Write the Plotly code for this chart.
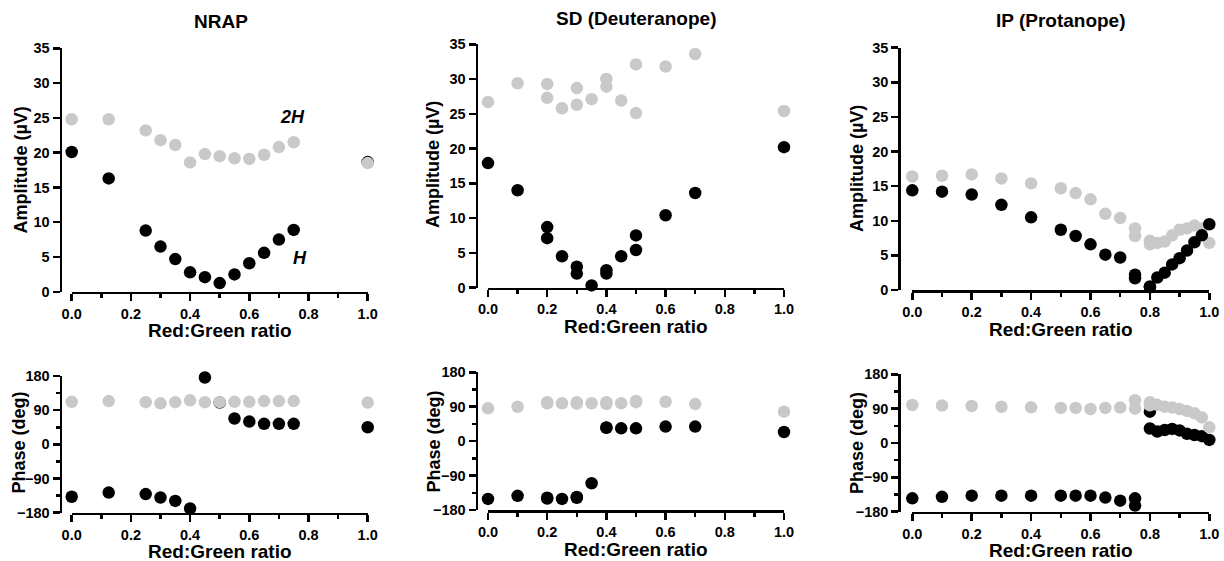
import plotly.graph_objects as go

# ---------------- data ----------------
# NRAP
nrap_amp_x_2h = [0.0, 0.125, 0.25, 0.3, 0.35, 0.4, 0.45, 0.5, 0.55, 0.6, 0.65, 0.7, 0.75, 1.0]
nrap_amp_2h = [24.8, 24.8, 23.2, 21.8, 21.1, 18.6, 19.8, 19.5, 19.2, 19.1, 19.7, 20.8, 21.5, 18.5]
nrap_amp_x_h = [0.0, 0.125, 0.25, 0.3, 0.35, 0.4, 0.45, 0.5, 0.55, 0.6, 0.65, 0.7, 0.75, 1.0]
nrap_amp_h = [20.1, 16.3, 8.8, 6.5, 4.7, 2.8, 2.1, 1.25, 2.5, 4.1, 5.6, 7.5, 8.9, 18.65]
nrap_ph_x_2h = [0.0, 0.125, 0.25, 0.3, 0.35, 0.4, 0.45, 0.5, 0.55, 0.6, 0.65, 0.7, 0.75, 1.0]
nrap_ph_2h = [112, 114, 111, 108, 111, 116, 111, 111, 112, 112, 114, 114, 114, 110]
nrap_ph_x_h = [0.0, 0.125, 0.25, 0.3, 0.35, 0.4, 0.45, 0.5, 0.55, 0.6, 0.65, 0.7, 0.75, 1.0]
nrap_ph_h = [-138, -127, -131, -140, -149, -169, 176, 110, 68, 60, 54, 54, 54, 45]

# SD (Deuteranope)
sd_amp_x_2h = [0.0, 0.1, 0.2, 0.2, 0.25, 0.3, 0.3, 0.35, 0.4, 0.4, 0.45, 0.5, 0.5, 0.6, 0.7, 1.0]
sd_amp_2h = [26.7, 29.4, 29.3, 27.3, 25.8, 28.7, 26.3, 27.1, 30.0, 28.9, 26.9, 32.1, 25.1, 31.8, 33.6, 25.4]
sd_amp_x_h = [0.0, 0.1, 0.2, 0.2, 0.25, 0.3, 0.3, 0.35, 0.4, 0.4, 0.45, 0.5, 0.5, 0.6, 0.7, 1.0]
sd_amp_h = [17.9, 14.0, 8.7, 7.1, 4.5, 3.0, 2.0, 0.3, 2.5, 2.0, 4.5, 7.5, 5.4, 10.4, 13.6, 20.2]
sd_ph_x_2h = [0.0, 0.1, 0.2, 0.2, 0.25, 0.3, 0.3, 0.35, 0.4, 0.4, 0.45, 0.5, 0.5, 0.6, 0.7, 1.0]
sd_ph_2h = [86, 90, 102, 99, 99, 102, 98, 99, 102, 97, 99, 105, 102, 103, 97, 77]
sd_ph_x_h = [0.0, 0.1, 0.2, 0.2, 0.25, 0.3, 0.3, 0.35, 0.4, 0.4, 0.45, 0.5, 0.6, 0.7, 1.0]
sd_ph_h = [-151, -143, -150, -148, -151, -148, -146, -110, 35, 36, 33.5, 33.5, 38, 38, 24]

# IP (Protanope)
ip_amp_x_2h = [0.0, 0.1, 0.2, 0.3, 0.4, 0.5, 0.55, 0.6, 0.65, 0.7, 0.75, 0.75,
               0.8, 0.8, 0.825, 0.85, 0.875, 0.9, 0.925, 0.95, 0.975, 1.0]
ip_amp_2h = [16.4, 16.5, 16.7, 16.1, 15.4, 14.7, 14.0, 13.1, 11.0, 10.4, 8.9, 7.8,
             7.1, 6.6, 6.8, 7.0, 7.9, 8.7, 8.9, 9.3, 8.9, 6.8]
ip_amp_x_h = [0.0, 0.1, 0.2, 0.3, 0.4, 0.5, 0.55, 0.6, 0.65, 0.7, 0.75, 0.75,
              0.8, 0.8, 0.825, 0.85, 0.875, 0.9, 0.925, 0.95, 0.975, 1.0]
ip_amp_h = [14.4, 14.2, 13.8, 12.3, 10.5, 8.7, 7.8, 6.6, 5.1, 4.7, 2.2, 1.7,
            0.4, 0.5, 1.8, 2.5, 3.7, 4.6, 5.7, 6.9, 7.9, 9.5]
ip_ph_x_2h = [0.0, 0.1, 0.2, 0.3, 0.4, 0.5, 0.55, 0.6, 0.65, 0.7, 0.75, 0.75,
              0.8, 0.8, 0.825, 0.85, 0.875, 0.9, 0.925, 0.95, 0.975, 1.0]
ip_ph_2h = [99.6, 98, 97, 95, 93.5, 92, 92, 89, 92, 93, 112, 90,
            107, 99, 100, 95, 93, 89, 84, 78, 67, 41]
ip_ph_x_h = [0.0, 0.1, 0.2, 0.3, 0.4, 0.5, 0.55, 0.6, 0.65, 0.7, 0.75, 0.75,
             0.8, 0.8, 0.825, 0.85, 0.875, 0.9, 0.925, 0.95, 0.975, 1.0]
ip_ph_h = [-145, -141, -138, -138, -138, -138, -138, -138, -143, -151, -145, -164,
           82, 38, 30, 34, 37, 33, 24, 21, 18, 8]

panel_titles = ["NRAP", "SD (Deuteranope)", "IP (Protanope)"]
x_title = "Red:Green ratio"
amp_title = "Amplitude (µV)"
ph_title = "Phase (deg)"

GRAY = "#c9c9c9"
BLACK = "#000000"
FONT = "Liberation Sans, Arial, sans-serif"

W, H = 1224, 561


def px(x):
    return x / W


def py(y):
    return 1 - y / H


# panel geometry in window pixels: (x0, x1, yaxis_x, ytop, ybottom)
geo = {
    1: (71.7, 367.7, 60.5, 48.3, 291.8),
    2: (488.0, 784.0, 476.5, 44.3, 287.5),
    3: (912.3, 1209.3, 899.3, 47.7, 290.0),
    4: (71.7, 367.7, 60.5, 376.0, 512.7),
    5: (488.0, 784.0, 476.5, 372.3, 510.0),
    6: (912.3, 1209.3, 899.3, 374.3, 511.7),
}

fig = go.Figure()

series = {
    1: (nrap_amp_x_h, nrap_amp_h, nrap_amp_x_2h, nrap_amp_2h, "gray_top"),
    2: (sd_amp_x_h, sd_amp_h, sd_amp_x_2h, sd_amp_2h, "black_top"),
    3: (ip_amp_x_h, ip_amp_h, ip_amp_x_2h, ip_amp_2h, "black_top"),
    4: (nrap_ph_x_h, nrap_ph_h, nrap_ph_x_2h, nrap_ph_2h, "gray_top"),
    5: (sd_ph_x_h, sd_ph_h, sd_ph_x_2h, sd_ph_2h, "gray_top"),
    6: (ip_ph_x_h, ip_ph_h, ip_ph_x_2h, ip_ph_2h, "gray_top"),
}

tickfont = dict(family=FONT, size=14.5, color="black", weight="bold")
layout = {}
for i in range(1, 7):
    x0, x1, yax, ytop, ybot = geo[i]
    xa = f"xaxis{i}" if i > 1 else "xaxis"
    ya = f"yaxis{i}" if i > 1 else "yaxis"
    xr = f"x{i}" if i > 1 else "x"
    yr = f"y{i}" if i > 1 else "y"
    layout[xa] = dict(
        domain=[px(x0), px(x1)], anchor=yr, range=[0, 1.0], automargin=False,
        tickmode="linear", tick0=0, dtick=0.2, tickformat=".1f",
        showline=True, linewidth=2.5, linecolor="black",
        ticks="outside", ticklen=7, tickwidth=2.5, tickcolor="black",
        minor=dict(dtick=0.1, ticks="outside", ticklen=4, tickwidth=2.5, tickcolor="black"),
        showgrid=False, zeroline=False, tickfont=tickfont,
    )
    if i <= 3:
        yspec = dict(range=[0, 35], tickmode="linear", tick0=0, dtick=5)
    else:
        yspec = dict(range=[-180, 180], tickmode="linear", tick0=-180, dtick=90,
                     minor=dict(dtick=45, ticks="outside", ticklen=4, tickwidth=2.5, tickcolor="black"))
    layout[ya] = dict(
        domain=[py(ybot), py(ytop)], anchor="free", position=px(yax), automargin=False,
        showline=True, linewidth=2.5, linecolor="black",
        ticks="outside", ticklen=7, tickwidth=2.5, tickcolor="black",
        showgrid=False, zeroline=False, tickfont=tickfont, **yspec,
    )
    hx, hy, gx, gy, order = series[i]
    black_tr = go.Scatter(x=hx, y=hy, mode="markers", xaxis=xr, yaxis=yr,
                          marker=dict(color=BLACK, size=12.5, line=dict(width=0)),
                          cliponaxis=False, showlegend=False, name="H")
    gray_tr = go.Scatter(x=gx, y=gy, mode="markers", xaxis=xr, yaxis=yr,
                         marker=dict(color=GRAY, size=12.5, line=dict(width=0)),
                         cliponaxis=False, showlegend=False, name="2H")
    if order == "gray_top":
        fig.add_trace(black_tr)
        fig.add_trace(gray_tr)
    else:
        fig.add_trace(gray_tr)
        fig.add_trace(black_tr)

annotations = []
# panel titles
title_pos = [(220.5, 21.5), (636.0, 18.5), (1060.8, 20.5)]
for t, (tx, ty) in zip(panel_titles, title_pos):
    annotations.append(dict(text=t, x=px(tx), y=py(ty), xref="paper", yref="paper",
                            showarrow=False, xanchor="center", yanchor="middle",
                            font=dict(family=FONT, size=19, color="black", weight="bold")))
# x axis titles
for i in range(1, 7):
    x0, x1, yax, ytop, ybot = geo[i]
    annotations.append(dict(text=x_title, x=px((x0 + x1) / 2), y=py(ybot + 39),
                            xref="paper", yref="paper", showarrow=False,
                            xanchor="center", yanchor="middle",
                            font=dict(family=FONT, size=19, color="black", weight="bold")))
# y axis titles
ytitle_pos = {1: (20.5, 170), 2: (433, 165), 3: (857, 169),
              4: (18.5, 443), 5: (433, 441.5), 6: (857, 443)}
for i, (tx, ty) in ytitle_pos.items():
    annotations.append(dict(text=amp_title if i <= 3 else ph_title,
                            x=px(tx), y=py(ty), xref="paper", yref="paper",
                            showarrow=False, textangle=-90,
                            xanchor="center", yanchor="middle",
                            font=dict(family=FONT, size=18, color="black", weight="bold")))
# series labels in NRAP amplitude panel
annotations.append(dict(text="<i>2H</i>", x=0.745, y=25.1, xref="x", yref="y",
                        showarrow=False, xanchor="center", yanchor="middle",
                        font=dict(family=FONT, size=18, color="black", weight="bold")))
annotations.append(dict(text="<i>H</i>", x=0.772, y=4.8, xref="x", yref="y",
                        showarrow=False, xanchor="center", yanchor="middle",
                        font=dict(family=FONT, size=18, color="black", weight="bold")))

fig.update_layout(
    width=W, height=H,
    margin=dict(l=0, r=0, t=0, b=0, autoexpand=False),
    paper_bgcolor="white", plot_bgcolor="white",
    showlegend=False,
    hovermode=False,
    annotations=annotations,
    **layout,
)

# remove the page's default 8px body margin so the figure fills the window exactly
fig.write_html("out.html", config={"displayModeBar": False, "staticPlot": True},
               post_script="document.body.style.margin='0px';")
